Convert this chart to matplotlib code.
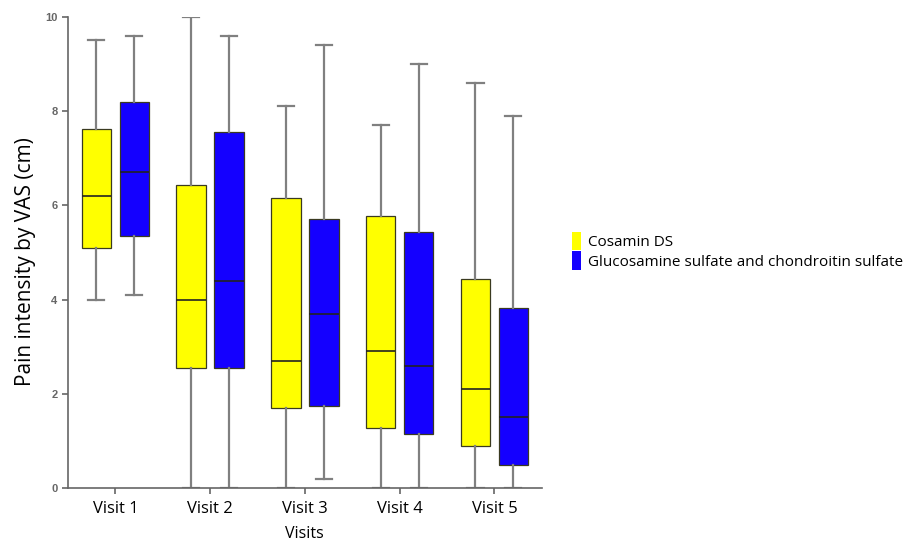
import matplotlib

matplotlib.use("Agg")
import matplotlib.pyplot as plt
from matplotlib.patches import Patch

VISITS = ["Visit 1", "Visit 2", "Visit 3", "Visit 4", "Visit 5"]
GROUPS = ["Cosamin DS", "Glucosamine sulfate and chondroitin sulfate"]

# per visit: whisker low, Q1, median, Q3, whisker high
COSAMIN_LOW = [4.0, 0.0, 0.0, 0.0, 0.0]
COSAMIN_Q1 = [5.1, 2.55, 1.7, 1.27, 0.9]
COSAMIN_MED = [6.2, 4.0, 2.7, 2.9, 2.1]
COSAMIN_Q3 = [7.62, 6.43, 6.15, 5.78, 4.44]
COSAMIN_HIGH = [9.5, 10.0, 8.1, 7.7, 8.6]

GLUCO_LOW = [4.1, 0.0, 0.2, 0.0, 0.0]
GLUCO_Q1 = [5.36, 2.55, 1.75, 1.15, 0.5]
GLUCO_MED = [6.7, 4.4, 3.7, 2.6, 1.5]
GLUCO_Q3 = [8.2, 7.56, 5.71, 5.44, 3.83]
GLUCO_HIGH = [9.6, 9.6, 9.4, 9.0, 7.9]

COLORS = ["#ffff00", "#1400ff"]


def make_stats(low, q1, med, q3, high):
    return [
        {"whislo": a, "q1": b, "med": c, "q3": d, "whishi": e, "fliers": []}
        for a, b, c, d, e in zip(low, q1, med, q3, high)
    ]


series = [
    make_stats(COSAMIN_LOW, COSAMIN_Q1, COSAMIN_MED, COSAMIN_Q3, COSAMIN_HIGH),
    make_stats(GLUCO_LOW, GLUCO_Q1, GLUCO_MED, GLUCO_Q3, GLUCO_HIGH),
]

fig = plt.figure(figsize=(9.06, 5.43), dpi=100)
ax = fig.add_axes([0.075, 0.101, 0.523, 0.868])

offsets = [-0.2, 0.2]
for stats, offset, color in zip(series, offsets, COLORS):
    positions = [i + offset for i in range(len(VISITS))]
    ax.bxp(
        stats,
        positions=positions,
        widths=0.31,
        patch_artist=True,
        showfliers=False,
        boxprops={"facecolor": color, "edgecolor": "#3a3a20", "linewidth": 0.9},
        medianprops={"color": "#222222", "linewidth": 1.2},
        whiskerprops={"color": "#808080", "linewidth": 1.6},
        capprops={"color": "#808080", "linewidth": 1.6},
        capwidths=0.17,
        zorder=2,
    )

ax.set_xlim(-0.5, 4.5)
ax.set_ylim(0, 10)
ax.set_xticks(range(len(VISITS)))
ax.set_xticklabels(VISITS, fontsize=12, family="Open Sans")
ax.set_yticks([0, 2, 4, 6, 8, 10])
ax.set_yticklabels(["0", "2", "4", "6", "8", "10"], fontsize=8, color="#666666",
                   family="Liberation Sans", weight="bold")
ax.tick_params(axis="both", colors="#666666", length=4, width=1.2)
ax.tick_params(axis="x", labelcolor="black", pad=5)
for side in ("top", "right"):
    ax.spines[side].set_visible(False)
for side in ("left", "bottom"):
    ax.spines[side].set_color("#666666")
    ax.spines[side].set_linewidth(1.2)

ax.set_ylabel("Pain intensity by VAS (cm)", fontsize=15, family="Open Sans")
ax.yaxis.set_label_coords(-0.067, 0.48)
ax.set_xlabel("Visits", fontsize=11.5, family="Open Sans", labelpad=7)

handles = [Patch(facecolor=c, edgecolor="none") for c in COLORS]
fig.legend(
    handles,
    GROUPS,
    loc="center left",
    bbox_to_anchor=(0.616, 0.538),
    frameon=False,
    handlelength=0.6,
    handleheight=1.5,
    handletextpad=0.45,
    labelspacing=0.05,
    prop={"family": "Open Sans", "size": 11},
)

fig.savefig("out.png", dpi=100, facecolor="white")
